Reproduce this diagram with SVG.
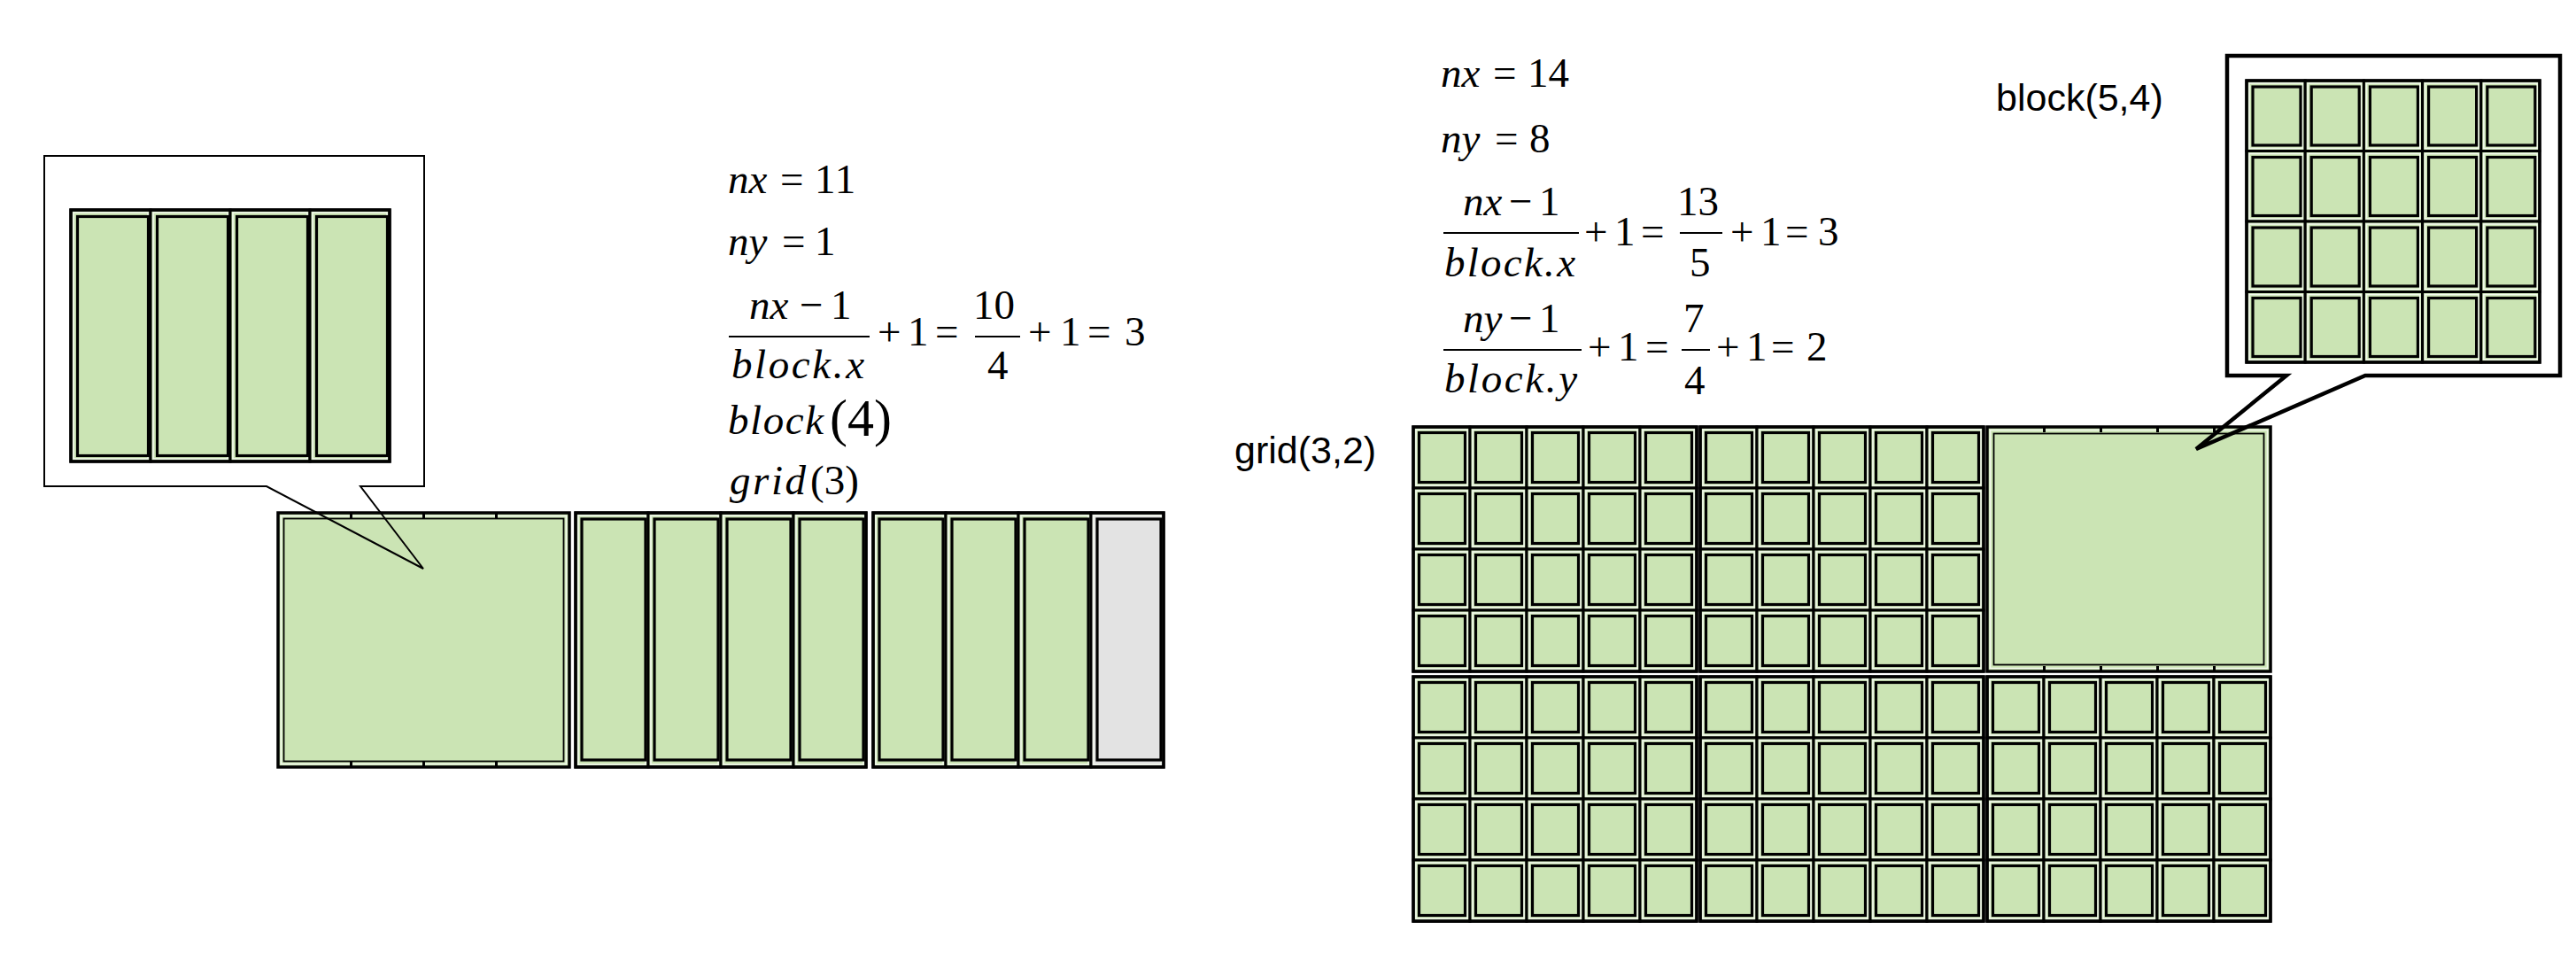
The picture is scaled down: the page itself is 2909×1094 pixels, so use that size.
<svg xmlns="http://www.w3.org/2000/svg" width="2909" height="1094" viewBox="0 0 2909 1094">
<style>
.co{fill:#cbe4b4;stroke:#000;stroke-width:3}
.cg{fill:#e3e3e3;stroke:#000;stroke-width:3}
.cp{fill:none;stroke:#f3f9ee;stroke-width:1.5}
.ci{fill:none;stroke:#000;stroke-width:3.2}
.ct{fill:none;stroke:#000;stroke-width:1.8}
.bo{fill:none;stroke:#000;stroke-width:3.5}
.tk{fill:#000}
.m{font-family:'Liberation Serif','Times New Roman',serif;font-size:47px;fill:#000}
.mi{font-family:'Liberation Serif','Times New Roman',serif;font-size:47px;font-style:italic;fill:#000}
.mp{font-family:'Liberation Serif','Times New Roman',serif;font-size:60px;fill:#000}
.bar{stroke:#000;stroke-width:2}
.lbl{font-family:'Liberation Sans',Arial,sans-serif;font-size:43px;fill:#000}
.call{fill:none;stroke:#000;stroke-linejoin:miter}
</style>
<defs>
<g id="cR"><rect class="co" width="64" height="69"/><rect class="cp" x="3" y="3" width="58" height="63"/><rect class="ci" x="6.5" y="6.5" width="52" height="56"/></g>
<g id="cC"><rect class="co" width="66.2" height="79.5"/><rect class="cp" x="3" y="3" width="60.2" height="73.5"/><rect class="ci" x="7" y="7" width="54" height="66"/></g>
<g id="cL"><rect class="co" width="82" height="287"/><rect class="cp" x="3" y="3" width="76" height="281"/><rect class="ci" x="7" y="7" width="72" height="272"/></g>
<g id="cLg"><rect class="cg" width="82" height="287"/><rect class="cp" x="3" y="3" width="76" height="281"/><rect class="ci" x="7" y="7" width="72" height="272"/></g>
<g id="cK"><rect class="co" width="90" height="284"/><rect class="cp" x="3" y="3" width="84" height="278"/><rect class="ci" x="7.5" y="7.5" width="80" height="270"/></g>
<g id="bR">
<use href="#cR" x="0" y="0"/><use href="#cR" x="64" y="0"/><use href="#cR" x="128" y="0"/><use href="#cR" x="192" y="0"/><use href="#cR" x="256" y="0"/>
<use href="#cR" x="0" y="69"/><use href="#cR" x="64" y="69"/><use href="#cR" x="128" y="69"/><use href="#cR" x="192" y="69"/><use href="#cR" x="256" y="69"/>
<use href="#cR" x="0" y="138"/><use href="#cR" x="64" y="138"/><use href="#cR" x="128" y="138"/><use href="#cR" x="192" y="138"/><use href="#cR" x="256" y="138"/>
<use href="#cR" x="0" y="207"/><use href="#cR" x="64" y="207"/><use href="#cR" x="128" y="207"/><use href="#cR" x="192" y="207"/><use href="#cR" x="256" y="207"/>
<rect class="bo" width="320" height="276"/>
</g>
</defs>

<!-- Left: callout block(4) -->
<g id="left-callout-block">
<use href="#cK" x="80" y="237"/><use href="#cK" x="170" y="237"/><use href="#cK" x="260" y="237"/><use href="#cK" x="350" y="237"/>
<rect class="bo" x="80" y="237" width="360" height="284"/>
</g>

<!-- Left: row of blocks -->
<g id="left-block-0">
<rect class="co" x="314" y="579" width="329" height="287" style="stroke-width:3.5"/>
<rect class="cp" x="317.5" y="582.5" width="322" height="280"/>
<rect class="ct" x="320.5" y="585.5" width="316" height="274"/>
<rect class="tk" x="395" y="580" width="3" height="5"/><rect class="tk" x="477" y="580" width="3" height="5"/><rect class="tk" x="559" y="580" width="3" height="5"/>
<rect class="tk" x="395" y="860" width="3" height="5"/><rect class="tk" x="477" y="860" width="3" height="5"/><rect class="tk" x="559" y="860" width="3" height="5"/>
</g>
<g id="left-block-1">
<use href="#cL" x="650" y="579"/><use href="#cL" x="732" y="579"/><use href="#cL" x="814" y="579"/><use href="#cL" x="896" y="579"/>
<rect class="bo" x="650" y="579" width="328" height="287"/>
</g>
<g id="left-block-2">
<use href="#cL" x="986" y="579"/><use href="#cL" x="1068" y="579"/><use href="#cL" x="1150" y="579"/><use href="#cLg" x="1232" y="579"/>
<rect class="bo" x="986" y="579" width="328" height="287"/>
</g>

<!-- Right: grid(3,2) -->
<g id="block-0-0"><use href="#bR" x="1596" y="482"/></g>
<g id="block-1-0"><use href="#bR" x="1920" y="482"/></g>
<g id="block-2-0">
<rect class="co" x="2244" y="482" width="320" height="276" style="stroke-width:3.5"/>
<rect class="cp" x="2247.5" y="485.5" width="313" height="269"/>
<rect class="ct" x="2251.5" y="489.5" width="305" height="261"/>
<rect class="tk" x="2307" y="483" width="3" height="5"/><rect class="tk" x="2371" y="483" width="3" height="5"/><rect class="tk" x="2435" y="483" width="3" height="5"/><rect class="tk" x="2499" y="483" width="3" height="5"/>
<rect class="tk" x="2307" y="752" width="3" height="5"/><rect class="tk" x="2371" y="752" width="3" height="5"/><rect class="tk" x="2435" y="752" width="3" height="5"/><rect class="tk" x="2499" y="752" width="3" height="5"/>
</g>
<g id="block-0-1"><use href="#bR" x="1596" y="764"/></g>
<g id="block-1-1"><use href="#bR" x="1920" y="764"/></g>
<g id="block-2-1"><use href="#bR" x="2244" y="764"/></g>

<!-- Right: callout block(5,4) -->
<g id="right-callout-block">
<use href="#cC" x="2537" y="91"/><use href="#cC" x="2603.2" y="91"/><use href="#cC" x="2669.4" y="91"/><use href="#cC" x="2735.6" y="91"/><use href="#cC" x="2801.8" y="91"/>
<use href="#cC" x="2537" y="170.5"/><use href="#cC" x="2603.2" y="170.5"/><use href="#cC" x="2669.4" y="170.5"/><use href="#cC" x="2735.6" y="170.5"/><use href="#cC" x="2801.8" y="170.5"/>
<use href="#cC" x="2537" y="250"/><use href="#cC" x="2603.2" y="250"/><use href="#cC" x="2669.4" y="250"/><use href="#cC" x="2735.6" y="250"/><use href="#cC" x="2801.8" y="250"/>
<use href="#cC" x="2537" y="329.5"/><use href="#cC" x="2603.2" y="329.5"/><use href="#cC" x="2669.4" y="329.5"/><use href="#cC" x="2735.6" y="329.5"/><use href="#cC" x="2801.8" y="329.5"/>
<rect class="bo" x="2537" y="91" width="331" height="318"/>
</g>

<!-- Callout outlines -->
<g id="connectors">
<path id="left-callout" class="call" style="stroke-width:2" d="M50,176 H479 V549 H407 L478,642 L301,549 H50 Z"/>
<path id="right-callout" class="call" style="stroke-width:4.5" d="M2515,63 H2891 V424 H2671 L2480,507 L2582,424 H2515 Z"/>
</g>

<!-- Left formulas -->
<g id="left-formulas">
<text class="mi" x="822" y="218">nx</text><text class="m" x="881" y="218">=</text><text class="m" x="920" y="218" letter-spacing="1">11</text>
<text class="mi" x="822" y="288">ny</text><text class="m" x="883" y="288">=</text><text class="m" x="920" y="288">1</text>
<text class="mi" x="846" y="360">nx</text><text class="m" x="903" y="360">−</text><text class="m" x="938" y="360">1</text>
<line class="bar" x1="823" y1="380" x2="982" y2="380"/>
<text class="mi" x="826" y="427" textLength="150" lengthAdjust="spacing">block.x</text>
<text class="m" x="991" y="390">+</text><text class="m" x="1025" y="390">1</text><text class="m" x="1056" y="390">=</text>
<text class="m" x="1099" y="360">10</text>
<line class="bar" x1="1101" y1="380" x2="1152" y2="380"/>
<text class="m" x="1115" y="428">4</text>
<text class="m" x="1161" y="390">+</text><text class="m" x="1197" y="390">1</text><text class="m" x="1228" y="390">=</text><text class="m" x="1270" y="390">3</text>
<text class="mi" x="822" y="490" textLength="108" lengthAdjust="spacing">block</text><text class="mp" x="937" y="492">(4)</text>
<text class="mi" x="824" y="558" textLength="86" lengthAdjust="spacing">grid</text><text class="m" x="915" y="558">(3)</text>
</g>

<!-- Right formulas -->
<g id="right-formulas">
<text class="mi" x="1627" y="98">nx</text><text class="m" x="1686" y="98">=</text><text class="m" x="1725" y="98">14</text>
<text class="mi" x="1627" y="172">ny</text><text class="m" x="1688" y="172">=</text><text class="m" x="1727" y="172">8</text>
<text class="mi" x="1652" y="243">nx</text><text class="m" x="1704" y="243">−</text><text class="m" x="1738" y="243">1</text>
<line class="bar" x1="1630" y1="263" x2="1783" y2="263"/>
<text class="mi" x="1631" y="312" textLength="148" lengthAdjust="spacing">block.x</text>
<text class="m" x="1789" y="277">+</text><text class="m" x="1823" y="277">1</text><text class="m" x="1853" y="277">=</text>
<text class="m" x="1894" y="243">13</text>
<line class="bar" x1="1897" y1="263" x2="1945" y2="263"/>
<text class="m" x="1908" y="312">5</text>
<text class="m" x="1954" y="277">+</text><text class="m" x="1988" y="277">1</text><text class="m" x="2016" y="277">=</text><text class="m" x="2053" y="277">3</text>
<text class="mi" x="1652" y="375">ny</text><text class="m" x="1704" y="375">−</text><text class="m" x="1738" y="375">1</text>
<line class="bar" x1="1630" y1="395" x2="1786" y2="395"/>
<text class="mi" x="1631" y="443" textLength="150" lengthAdjust="spacing">block.y</text>
<text class="m" x="1793" y="407">+</text><text class="m" x="1827" y="407">1</text><text class="m" x="1858" y="407">=</text>
<text class="m" x="1901" y="375">7</text>
<line class="bar" x1="1899" y1="395" x2="1931" y2="395"/>
<text class="m" x="1902" y="445">4</text>
<text class="m" x="1938" y="407">+</text><text class="m" x="1972" y="407">1</text><text class="m" x="2000" y="407">=</text><text class="m" x="2040" y="407">2</text>
</g>

<g id="label-grid"><text class="lbl" x="1394" y="523">grid(3,2)</text></g>
<g id="label-block"><text class="lbl" x="2254" y="125">block(5,4)</text></g>
</svg>
